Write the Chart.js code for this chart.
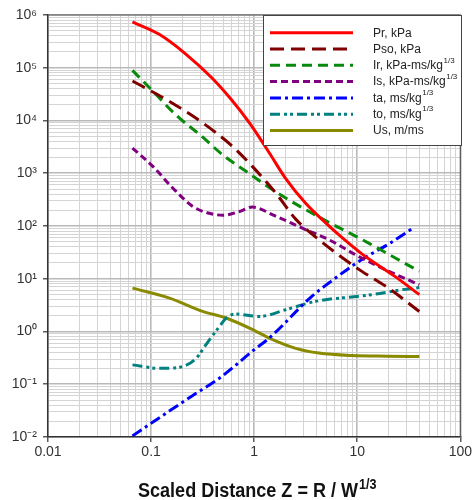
<!DOCTYPE html>
<html><head><meta charset="utf-8">
<script src="https://cdn.jsdelivr.net/npm/chart.js@4.4.1/dist/chart.umd.min.js"></script>
<style>html,body{margin:0;padding:0;background:#fff}</style>
</head><body>
<canvas id="c" width="474" height="500"></canvas>
<script>
// ---- data ----
const seriesNames = ['Pr, kPa','Pso, kPa','Ir, kPa-ms/kg','Is, kPa-ms/kg','ta, ms/kg','to, ms/kg','Us, m/ms'];
const seriesSup   = ['','','1/3','1/3','1/3','1/3',''];
const Pr  = [[0.066,7.4e5],[0.12,4.3e5],[0.22,1.78e5],[0.39,6.4e4],[0.6,2.5e4],[0.9,9.0e3],[1.4,2.45e3],[2.0,820],[3.16,270],[5.0,112],[7.0,62],[11,30],[23,11.2],[40,5.0]];
const Pso = [[0.066,5.6e4],[0.151,2.3e4],[0.317,9.0e3],[0.62,3.2e3],[0.96,1.35e3],[1.62,423],[2.53,135],[4.25,55],[5.93,33],[11.1,13.8],[20,6.7],[40,2.4]];
const Ir  = [[0.066,8.9e4],[0.104,3.6e4],[0.176,1.25e4],[0.3,5.3e3],[0.5,2.2e3],[0.8,1.15e3],[1.9,365],[5.2,120],[12.9,47.5],[23.4,24.7],[40,13.9]];
const Is  = [[0.066,3.0e3],[0.104,1.35e3],[0.162,526],[0.254,235],[0.35,178],[0.5,160],[0.7,185],[0.96,228],[1.6,155],[2.9,92],[5.3,55],[10.5,26],[20,14],[40,7.7]];
const ta  = [[0.066,0.0105],[0.15,0.031],[0.25,0.06],[0.46,0.13],[1.0,0.45],[1.4,0.75],[3.65,4.7],[5.3,8.3],[11,23],[20,45],[35,92]];
const to  = [[0.066,0.233],[0.121,0.2],[0.19,0.21],[0.274,0.31],[0.34,0.56],[0.46,1.24],[0.535,1.8],[0.66,2.14],[1.12,1.93],[2.02,2.58],[3.65,3.6],[5.3,4.1],[8.85,4.5],[13.9,5.0],[27.1,6.2],[40,6.8]];
const Us  = [[0.066,6.65],[0.151,4.3],[0.317,2.4],[0.535,1.8],[1.0,1.05],[1.4,0.75],[2.53,0.48],[4.25,0.39],[8.85,0.35],[20,0.34],[40,0.335]];
const xTickLabels = ['0.01','0.1','1','10','100'];
const yExponents = [-2,-1,0,1,2,3,4,5,6];

// ---- styles ----
const seriesData = [Pr,Pso,Ir,Is,ta,to,Us];
const colors = ['#ff0000','#800000','#0a8a0a','#800080','#0000ff','#008080','#8a8a00'];
const dashes = [[],[14,7],[10,6],[7,4],[11,4,3,4],[10,4,3,3,3,4],[]];

const isDecade = v => Math.abs(Math.log10(v) - Math.round(Math.log10(v))) < 1e-9;
function gridValues(lo, hi){ const out=[]; for(let e=lo;e<hi;e++){ for(let m=1;m<10;m++) out.push(m*Math.pow(10,e)); } out.push(Math.pow(10,hi)); return out; }
const xGrid = gridValues(-2,2);
const yGrid = gridValues(yExponents[0], yExponents[yExponents.length-1]);
const supMap = {'0':'⁰','1':'¹','2':'²','3':'³','4':'⁴','5':'⁵','6':'⁶','7':'⁷','8':'⁸','9':'⁹','-':'⁻'};
const yLabel = v => '10' + String(Math.round(Math.log10(v))).split('').map(c=>supMap[c]).join('');
const xLabel = v => { const e=Math.round(Math.log10(v)); return xTickLabels[e+2]; };

const FONT = "'Liberation Sans', Arial, sans-serif";

const gridOpts = {
  color: c => (c.tick && isDecade(c.tick.value)) ? '#b9b9b9' : '#d4d4d4',
  lineWidth: c => (c.tick && isDecade(c.tick.value)) ? 1.6 : 1,
  drawTicks: true,
  tickLength: 5,
  tickColor: c => (c.tick && isDecade(c.tick.value)) ? '#333' : 'rgba(0,0,0,0)',
  tickWidth: 1.2
};

const framePlugin = {
  id:'frame',
  afterDatasetsDraw(chart){
    const {ctx, chartArea:a} = chart;
    ctx.save();
    ctx.strokeStyle='#555'; ctx.lineWidth=1.2;
    ctx.beginPath(); ctx.moveTo(a.left,a.top); ctx.lineTo(a.right,a.top); ctx.lineTo(a.right,a.bottom); ctx.stroke();
    ctx.restore();
  }
};

const legendPlugin = {
  id:'boxLegend',
  afterDraw(chart){
    const ctx = chart.ctx;
    const bx=263, by=15, bw=198, bh=130;
    ctx.save();
    ctx.fillStyle='#fff'; ctx.fillRect(bx,by,bw,bh);
    ctx.strokeStyle='#444'; ctx.lineWidth=1; ctx.strokeRect(bx+0.5,by+0.5,bw,bh);
    chart.data.datasets.forEach((ds,i)=>{
      const y = 32.7 + i*16.3;
      ctx.strokeStyle = ds.borderColor; ctx.lineWidth=3; ctx.setLineDash(ds.borderDash||[]);
      ctx.lineCap='butt';
      ctx.beginPath(); ctx.moveTo(270,y); ctx.lineTo(353,y); ctx.stroke();
      ctx.setLineDash([]);
      ctx.fillStyle='#222'; ctx.textBaseline='middle'; ctx.textAlign='left';
      ctx.font = '12px ' + FONT;
      ctx.fillText(seriesNames[i], 373, y+0.5);
      if (seriesSup[i]) {
        const w = ctx.measureText(seriesNames[i]).width;
        ctx.font = '8px ' + FONT;
        ctx.fillText(seriesSup[i], 373 + w + 0.5, y-5);
      }
    });
    ctx.restore();
  }
};

const titlePlugin = {
  id:'xTitle',
  afterDraw(chart){
    const ctx = chart.ctx;
    ctx.save();
    ctx.fillStyle='#111'; ctx.textBaseline='alphabetic'; ctx.textAlign='left';
    const main = 'Scaled Distance Z = R / W';
    ctx.font = 'bold 20px ' + FONT;
    const w = ctx.measureText(main).width;
    const sx = 220 / w;
    ctx.translate(138, 497);
    ctx.scale(sx, 1);
    ctx.fillText(main, 0, 0);
    ctx.font = 'bold 14px ' + FONT;
    ctx.fillText('1/3', w + 1, -8);
    ctx.restore();
  }
};

const datasets = seriesData.map((arr,i)=>({
  label: seriesNames[i],
  data: arr.map(p=>({x:p[0], y:p[1]})),
  borderColor: colors[i],
  backgroundColor: colors[i],
  borderDash: dashes[i],
  borderWidth: 3,
  pointRadius: 0,
  fill: false,
  cubicInterpolationMode: 'monotone'
}));

new Chart(document.getElementById('c'), {
  type: 'line',
  data: { datasets },
  options: {
    responsive: false,
    animation: false,
    devicePixelRatio: 1,
    layout: { padding: { top: 15, right: 12, left: 0, bottom: 0 } },
    plugins: { legend: { display: false }, tooltip: { enabled: false }, title: { display: false } },
    scales: {
      x: {
        type: 'logarithmic', min: 0.01, max: 100,
        afterBuildTicks: s => { s.ticks = xGrid.map(v => ({ value: v, major: isDecade(v) })); },
        afterFit: s => { s.height = 63; },
        ticks: { autoSkip: false, maxRotation: 0, minRotation: 0, padding: 2, color: '#333',
                 font: { size: 14, family: FONT },
                 callback: v => isDecade(v) ? xLabel(v) : '' },
        grid: gridOpts,
        border: { display: true, color: '#333', width: 1.5 }
      },
      y: {
        type: 'logarithmic', min: 1e-2, max: 1e6,
        afterBuildTicks: s => { s.ticks = yGrid.map(v => ({ value: v, major: isDecade(v) })); },
        afterFit: s => { s.width = 48; },
        ticks: { autoSkip: false, padding: 6, color: '#333',
                 font: { size: 14, family: FONT },
                 callback: v => isDecade(v) ? yLabel(v) : '' },
        grid: gridOpts,
        border: { display: true, color: '#333', width: 1.5 }
      }
    }
  },
  plugins: [framePlugin, legendPlugin, titlePlugin]
});
</script>
</body></html>
